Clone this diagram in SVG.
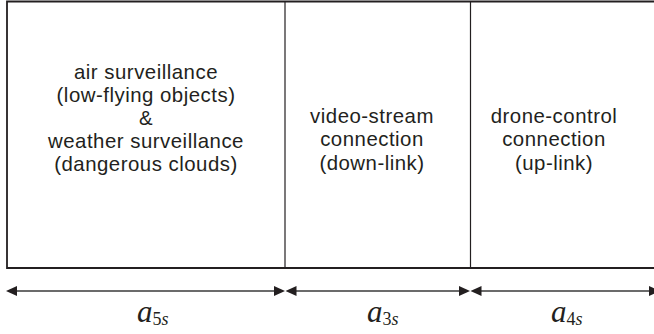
<svg xmlns="http://www.w3.org/2000/svg" width="654" height="334" viewBox="0 0 654 334">
<style>
.t{font-family:"Liberation Sans",Arial,sans-serif;font-size:20.4px;letter-spacing:0.5px;fill:#231f20;text-anchor:middle}
.m{font-family:"Liberation Serif","Times New Roman",serif;font-style:italic;fill:#231f20}
.box{fill:none;stroke:#231f20;stroke-width:1.8}
.div{stroke:#231f20;stroke-width:1.2}
.arr{stroke:#3a3a3a;stroke-width:1.5}
.hd{fill:#231f20}
</style>
<rect width="654" height="334" fill="#fff"/>
<g id="frame">
<path class="box" d="M670,1.5 H7 V268 H670"/>
</g>
<g id="node-air">
<line class="div" x1="285" y1="1.5" x2="285" y2="268"/>
<text class="t" x="146" y="79">air surveillance</text>
<text class="t" x="146" y="102">(low-flying objects)</text>
<text class="t" x="146" y="125">&amp;</text>
<text class="t" x="146" y="148">weather surveillance</text>
<text class="t" x="146" y="171">(dangerous clouds)</text>
</g>
<g id="node-video">
<line class="div" x1="470.5" y1="1.5" x2="470.5" y2="268"/>
<text class="t" x="372" y="123">video-stream</text>
<text class="t" x="372" y="146">connection</text>
<text class="t" x="372" y="170">(down-link)</text>
</g>
<g id="node-drone">
<text class="t" x="554" y="123">drone-control</text>
<text class="t" x="554" y="146">connection</text>
<text class="t" x="554" y="170">(up-link)</text>
</g>
<g id="connectors">
<line class="arr" x1="14" y1="291" x2="278" y2="291"/>
<line class="arr" x1="292" y1="291" x2="463" y2="291"/>
<line class="arr" x1="478" y1="291" x2="652" y2="291"/>
<path class="hd" d="M6,291 L17,286 L17,296 Z"/>
<path class="hd" d="M285,291 L274,286 L274,296 Z"/>
<path class="hd" d="M285.5,291 L296.5,286 L296.5,296 Z"/>
<path class="hd" d="M470,291 L459,286 L459,296 Z"/>
<path class="hd" d="M470.5,291 L481.5,286 L481.5,296 Z"/>
<path class="hd" d="M660,291 L649,286 L649,296 Z"/>
</g>
<g id="labels">
<text class="m" x="137" y="322" font-size="31">a<tspan font-size="18" dy="3" font-style="normal">5</tspan><tspan font-size="18">s</tspan></text>
<text class="m" x="367" y="322" font-size="31">a<tspan font-size="18" dy="3" font-style="normal">3</tspan><tspan font-size="18">s</tspan></text>
<text class="m" x="551" y="322" font-size="31">a<tspan font-size="18" dy="3" font-style="normal">4</tspan><tspan font-size="18">s</tspan></text>
</g>
</svg>
